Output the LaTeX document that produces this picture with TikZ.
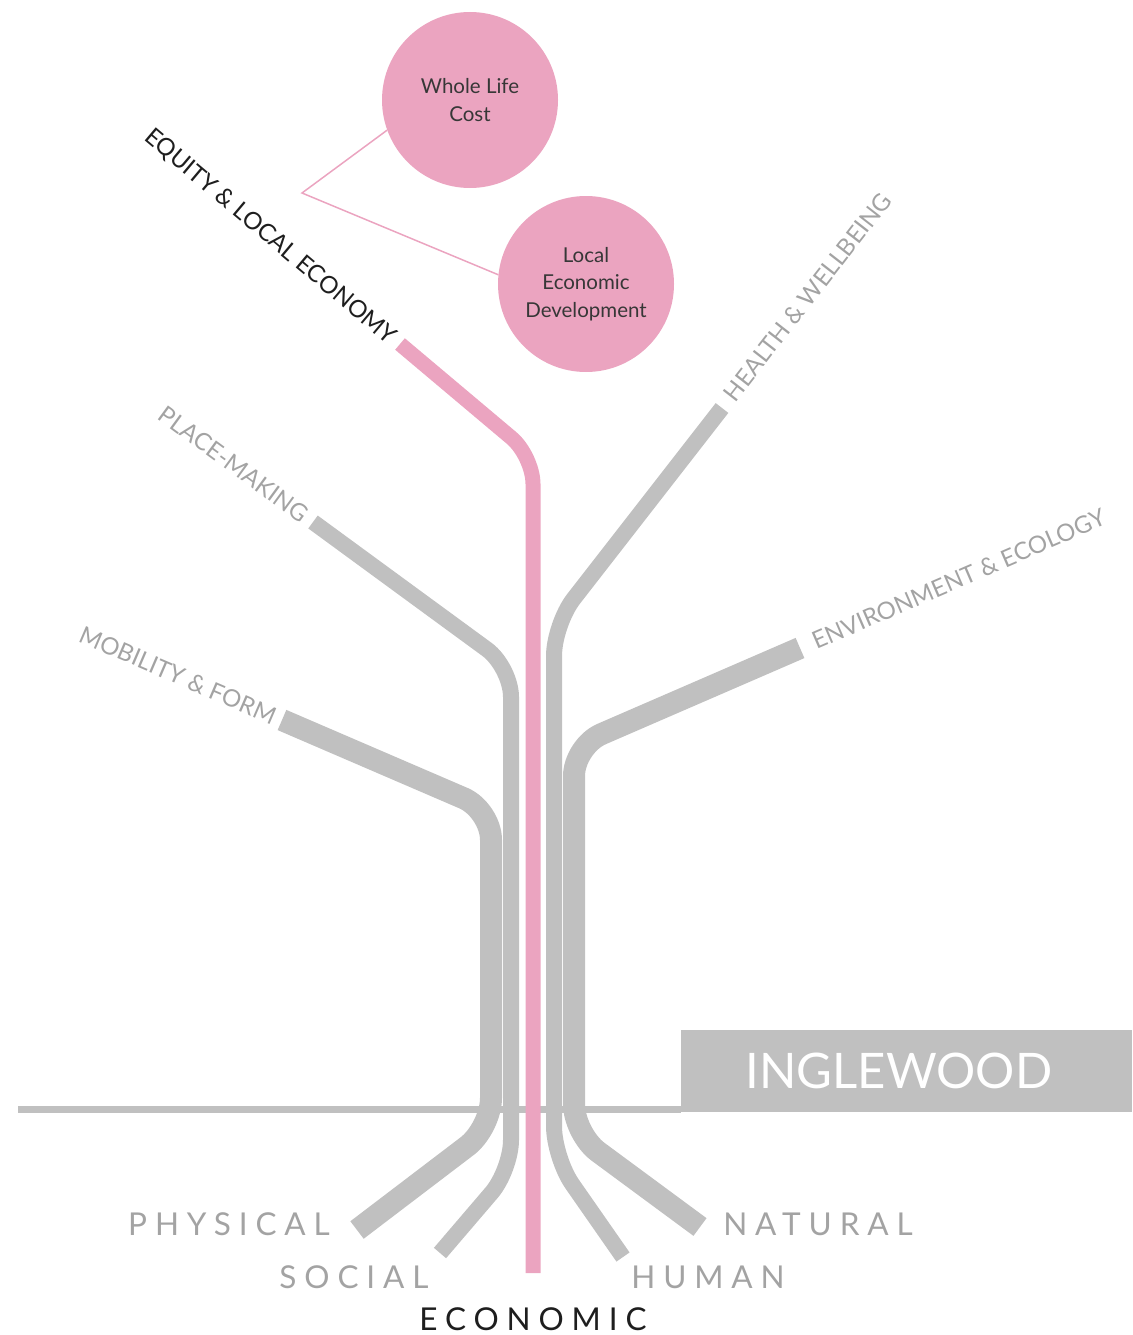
\documentclass[tikz,border=0pt]{standalone}
\usepackage{fontspec}
\setmainfont{Lato}
\newfontfamily\widecaps[LetterSpace=25]{Lato}
\definecolor{strandgray}{RGB}{192,192,192}
\definecolor{rose}{RGB}{235,164,192}
\definecolor{labelgray}{RGB}{163,163,163}
\definecolor{ink}{RGB}{55,55,55}
\definecolor{darkink}{RGB}{30,30,30}
\begin{document}
\begin{tikzpicture}[x=1pt,y=-1pt,
  strand/.style={draw=strandgray, line cap=butt, line join=round},
  thin strand/.style={strand, line width=16pt},
  thick strand/.style={strand, line width=22pt},
  econ strand/.style={draw=rose, line cap=butt, line join=round, line width=15pt},
  branch label/.style={text=labelgray, font=\fontsize{24}{28}\selectfont, inner sep=0pt, text depth=0pt},
  root label/.style={text=labelgray, font=\widecaps\fontsize{31.5}{34}\selectfont, inner sep=0pt},
  bubble/.style={circle, fill=rose, minimum size=176pt, inner sep=0pt, align=center, text=ink, font=\fontsize{20.5}{27.5}\selectfont},
]
\useasboundingbox (0,0) rectangle (1132,1335);

% ground line and place name
\fill[strandgray] (18,1106) rectangle (681,1113);
\node[fill=strandgray, minimum width=451pt, minimum height=82pt, anchor=north west, inner sep=0pt] (place) at (681,1030) {};
\node[text=white, font=\fontsize{49}{51}\selectfont, inner sep=0pt] (placename) at (899,1071) {INGLEWOOD};

% strand end points
\coordinate (mobility)  at (282,720);
\coordinate (placemk)   at (313,522);
\coordinate (health)    at (722,408);
\coordinate (environ)   at (800,648);
\coordinate (equity)    at (400,344);
\coordinate (physical)  at (357,1230);
\coordinate (social)    at (440,1253);
\coordinate (human)     at (623,1257);
\coordinate (natural)   at (700,1227);
\coordinate (economic)  at (533,1273);

% strands
\draw[thick strand, rounded corners=30pt] (mobility) -- (491,810) -- (491,1128) -- (physical);
\draw[thin strand, rounded corners=30pt] (placemk) -- (511,667) -- (511,1170) -- (social);
\draw[thin strand, rounded corners=32pt] (health) -- (554,624) -- (554,1158) -- (human);
\draw[thick strand, rounded corners=30pt] (environ) -- (574,746) -- (574,1134) -- (natural);
\draw[econ strand, rounded corners=28pt] (equity) -- (533,456) -- (economic);

% branch labels
\node[branch label, text=darkink, rotate=-40.1, anchor=east] (lequity) at (394,339) {EQUITY \& LOCAL ECONOMY};
\node[branch label, rotate=-36.2, anchor=east] (lplace) at (306,517) {PLACE-MAKING};
\node[branch label, rotate=-23.3, anchor=east] (lmob) at (275,717) {MOBILITY \& FORM};
\node[branch label, rotate=52.1, anchor=west] (lhealth) at (729,398) {HEALTH \& WELLBEING};
\node[branch label, rotate=23.4, anchor=west] (lenv) at (813,642) {ENVIRONMENT \& ECOLOGY};

% root labels
\node[root label] (lphys) at (229,1224) {PHYSICAL};
\node[root label] (lsoc) at (354,1277) {SOCIAL};
\node[root label, text=darkink] (lecon) at (533,1319) {ECONOMIC};
\node[root label] (lhum) at (708,1277) {HUMAN};
\node[root label] (lnat) at (818,1224) {NATURAL};

% economic outcome bubbles
\node[bubble] (wlc) at (470,100) {Whole Life\\Cost};
\node[bubble] (led) at (586,284) {Local\\Economic\\Development};
\coordinate (fork) at (302,193);
\draw[rose, line width=1.5pt] (wlc.200) -- (fork) -- (led.174);
\end{tikzpicture}
\end{document}
